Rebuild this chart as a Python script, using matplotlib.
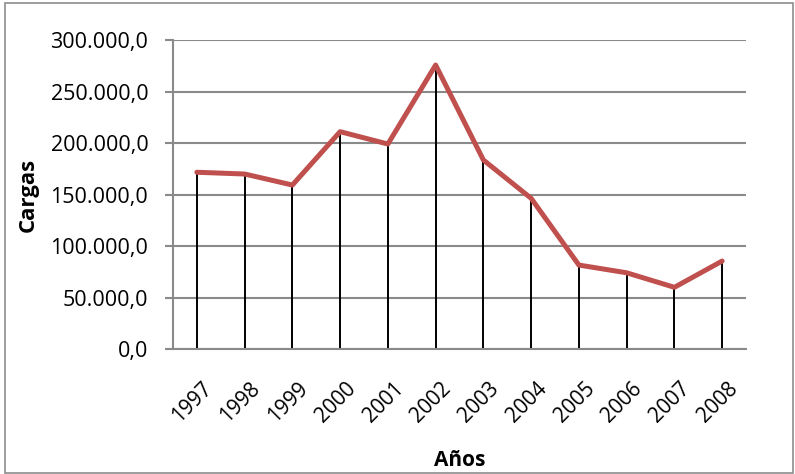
import matplotlib
matplotlib.use("Agg")
import matplotlib.pyplot as plt
from matplotlib.ticker import FuncFormatter, MultipleLocator
from matplotlib.patches import Rectangle
from matplotlib.transforms import ScaledTranslation

years = ["1997", "1998", "1999", "2000", "2001", "2002", "2003", "2004", "2005", "2006", "2007", "2008"]
cargas = [171600, 169900, 159200, 211000, 199000, 275700, 183500, 146300, 81500, 74000, 59900, 85400]

fig = plt.figure(figsize=(7.95, 4.74), dpi=100)
plt.rcParams['font.family'] = ['Open Sans', 'DejaVu Sans']

# outer frame
fig.patches.append(Rectangle((0.006, 0.003), 0.992, 0.99, transform=fig.transFigure,
                             fill=False, edgecolor='#8c8c8c', linewidth=1.2))

ax = fig.add_axes([0.2176, 0.2637, 0.7208, 0.6519])
x = list(range(len(years)))
ax.set_xlim(-0.5, len(years) - 0.5)
ax.set_ylim(0, 300000)

ax.yaxis.set_major_locator(MultipleLocator(50000))
ax.grid(axis='y', color='#8a8a8a', linewidth=1.5)
ax.set_axisbelow(True)

ax.vlines(x, 0, cargas, colors='black', linewidth=1.4, zorder=2)
ax.plot(x, cargas, color='#C0504D', linewidth=3.6, solid_joinstyle='round',
        solid_capstyle='round', zorder=3)

def fmt(v, pos):
    s = f"{v:,.1f}"
    return s.replace(",", "X").replace(".", ",").replace("X", ".")
ax.yaxis.set_major_formatter(FuncFormatter(fmt))

for s in ['top', 'right']:
    ax.spines[s].set_visible(False)
ax.spines['left'].set_color('#8a8a8a')
ax.spines['left'].set_linewidth(1.5)
ax.spines['bottom'].set_color('#8a8a8a')
ax.spines['bottom'].set_linewidth(1.5)

ax.tick_params(axis='y', length=5.8, width=1.5, color='#8a8a8a', labelsize=15.5, pad=12)
ax.set_xticks(x)
ax.set_xticklabels(years, rotation=45, ha='right', va='top', rotation_mode='anchor', fontsize=15)
ax.tick_params(axis='x', length=0, pad=21)
off = ScaledTranslation(5 / 100, 0, fig.dpi_scale_trans)
for lab in ax.get_xticklabels():
    lab.set_transform(lab.get_transform() + off)

ax.set_xlabel("Años", fontsize=15, fontweight='bold')
ax.set_ylabel("Cargas", fontsize=16, fontweight='bold')
ax.yaxis.set_label_coords(-0.253, 0.5)
ax.yaxis.label.set_va('center')
ax.xaxis.set_label_coords(0.5, -0.36)
ax.xaxis.label.set_va('center')

fig.savefig("out.png", dpi=100)
